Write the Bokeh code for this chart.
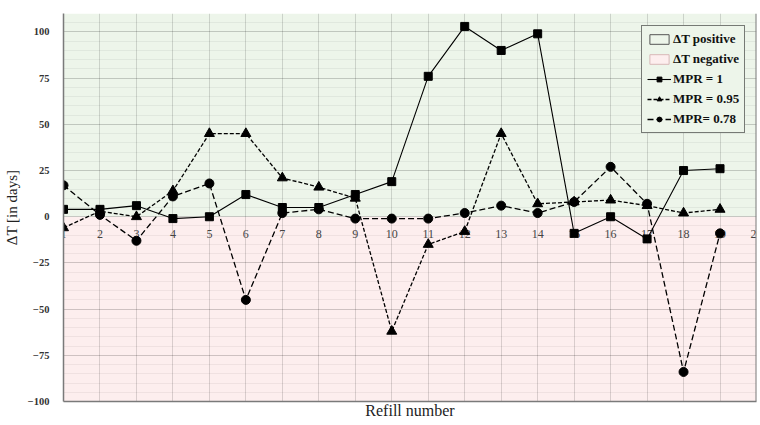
from bokeh.plotting import figure
from bokeh.models import (BoxAnnotation, Span, Legend, LegendItem,
                          SingleIntervalTicker, FixedTicker, Range1d)
from bokeh.core.properties import value
from bokeh.embed import file_html
from bokeh.resources import INLINE

# ---- data -------------------------------------------------------------
refill = list(range(1, 20))
mpr_100 = [4, 4, 6, -1, 0, 12, 5, 5, 12, 19, 76, 103, 90, 99, -9, 0, -12, 25, 26]
mpr_095 = [-6, 3, 0, 14, 45, 45, 21, 16, 10, -62, -15, -8, 45, 7, 8, 9, 6, 2, 4]
mpr_078 = [17, 1, -13, 11, 18, -45, 2, 4, -1, -1, -1, 2, 6, 2, 8, 27, 7, -84, -9]
x_tick_labels = list(range(1, 21))
series_labels = ["MPR = 1", "MPR = 0.95", "MPR= 0.78"]
zone_labels = ["\u0394T positive", "\u0394T negative"]

FONT = "Liberation Serif"
GREEN = "#edf5ea"
PINK = "#fdeeee"
NAN = float("nan")

p = figure(width=758, height=421, x_range=Range1d(1, 20), y_range=Range1d(-100, 110),
           output_backend="svg", toolbar_location=None,
           min_border_left=0, min_border_right=2, min_border_top=13, min_border_bottom=0,
           background_fill_color="white", border_fill_color="white")
p.outline_line_color = None

# background zones
p.add_layout(BoxAnnotation(bottom=0, fill_color=GREEN, fill_alpha=1, line_color=None, level="image"))
p.add_layout(BoxAnnotation(top=0, fill_color=PINK, fill_alpha=1, line_color=None, level="image"))

# axes / grid
p.xaxis.ticker = FixedTicker(ticks=[])
p.xgrid.ticker = SingleIntervalTicker(interval=1, num_minor_ticks=0)
p.yaxis.ticker = SingleIntervalTicker(interval=25, num_minor_ticks=5)
p.grid.grid_line_color = "black"
p.grid.grid_line_alpha = 0.14
p.ygrid.minor_grid_line_color = "black"
p.ygrid.minor_grid_line_alpha = 0.05

p.xaxis.major_tick_line_color = None
p.xaxis.minor_tick_line_color = None
p.xaxis.major_tick_out = 0
p.xaxis.minor_tick_out = 0
p.xaxis.axis_line_color = "#7a7a7a"
p.xaxis.axis_line_width = 1.5
p.xaxis.axis_label = "Refill number"
p.xaxis.axis_label_text_font = FONT
p.xaxis.axis_label_text_font_size = "16px"
p.xaxis.axis_label_text_font_style = "normal"
p.xaxis.axis_label_text_color = "#222222"
p.xaxis.axis_label_standoff = 0
p.xaxis.major_label_standoff = 0

p.yaxis.major_label_text_font = FONT
p.yaxis.major_label_text_font_size = "10.5px"
p.yaxis.major_label_text_font_style = "bold"
p.yaxis.major_label_text_color = "#333333"
p.yaxis.major_tick_line_color = None
p.yaxis.minor_tick_line_color = None
p.yaxis.major_tick_out = 0
p.yaxis.minor_tick_out = 0
p.yaxis.major_label_standoff = 14
p.yaxis.axis_line_color = "#7a7a7a"
p.yaxis.axis_line_width = 1.5
p.yaxis.axis_label = "\u0394T [in days]"
p.yaxis.axis_label_text_font = FONT
p.yaxis.axis_label_text_font_size = "15px"
p.yaxis.axis_label_text_font_style = "normal"
p.yaxis.axis_label_text_color = "#222222"
p.yaxis.axis_label_standoff = 5

p.add_layout(Span(location=20, dimension="height", line_color="#7a7a7a", line_width=2))

# x tick labels sitting on the zero line
p.text(x=x_tick_labels, y=[0] * len(x_tick_labels), text=[str(v) for v in x_tick_labels],
       text_font=value(FONT), text_font_size="12px", text_align="center",
       text_baseline="middle", y_offset=17, text_color="#444444")

# series
l1 = p.line(refill, mpr_100, line_color="black", line_width=1.1)
s1 = p.scatter(refill, mpr_100, marker="square", size=8, color="black")
l2 = p.line(refill, mpr_095, line_color="black", line_width=1.3, line_dash="4 2")
s2 = p.scatter(refill, mpr_095, marker="triangle", size=10, color="black")
l3 = p.line(refill, mpr_078, line_color="black", line_width=1.3, line_dash="6 3")
s3 = p.scatter(refill, mpr_078, marker="circle", size=9, color="black")

# legend swatches for zones (not drawn in the plot area)
z1 = p.quad(left=[NAN], right=[NAN], top=[NAN], bottom=[NAN], fill_color=GREEN, line_color="#555555")
z2 = p.quad(left=[NAN], right=[NAN], top=[NAN], bottom=[NAN], fill_color=PINK, line_color="#d8b8b8")

legend = Legend(items=[
    LegendItem(label=zone_labels[0], renderers=[z1]),
    LegendItem(label=zone_labels[1], renderers=[z2]),
    LegendItem(label=series_labels[0], renderers=[l1, s1]),
    LegendItem(label=series_labels[1], renderers=[l2, s2]),
    LegendItem(label=series_labels[2], renderers=[l3, s3]),
], location=(578, 268), border_line_color="black", border_line_width=1,
   background_fill_color=GREEN, background_fill_alpha=1,
   label_text_font=FONT, label_text_font_size="13px", label_text_font_style="bold",
   label_text_color="#111111",
   glyph_width=24, glyph_height=12, spacing=4, padding=5, margin=0, label_standoff=2)
p.add_layout(legend)

open("out.html", "w").write(file_html(p, INLINE))
